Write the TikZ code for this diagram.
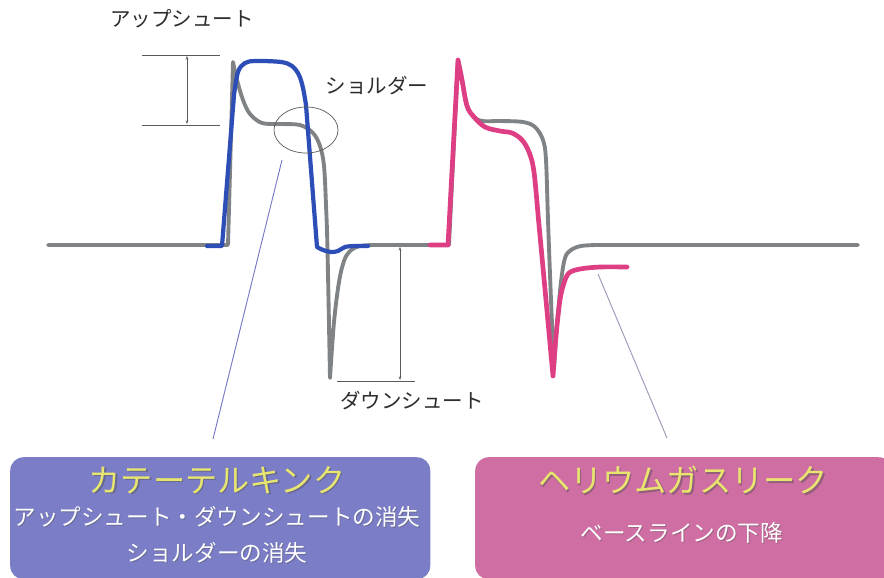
\documentclass[tikz,border=0pt]{standalone}
\usepackage{fontspec}
\setmainfont{Noto Sans CJK JP}
\usetikzlibrary{arrows.meta,shapes.geometric}
\definecolor{curvegray}{RGB}{128,131,133}
\definecolor{katblue}{RGB}{45,78,182}
\definecolor{hepink}{RGB}{222,62,132}
\definecolor{kboxfill}{RGB}{123,126,198}
\definecolor{hboxfill}{RGB}{206,110,162}
\definecolor{titleyellow}{RGB}{232,230,110}
\definecolor{labelgray}{RGB}{45,45,45}
\definecolor{thingray}{RGB}{90,90,90}
\definecolor{kleader}{RGB}{120,120,200}
\definecolor{hleader}{RGB}{165,150,185}
\begin{document}
\begin{tikzpicture}[x=0.03cm,y=-0.03cm,
  lbl/.style={text=labelgray,font=\fontsize{17.5pt}{20pt}\selectfont,inner sep=0pt},
  boxtitle/.style={text=titleyellow,font=\fontsize{27.5pt}{30pt}\selectfont,inner sep=0pt},
  boxshadow/.style={text=black!70,opacity=0.45,font=\fontsize{27.5pt}{30pt}\selectfont,inner sep=0pt},
  boxsub/.style={text=white,font=\fontsize{19.3pt}{22pt}\selectfont,inner sep=0pt},
  subshadow/.style={text=black!70,opacity=0.35,font=\fontsize{19.3pt}{22pt}\selectfont,inner sep=0pt},
  infobox/.style={rounded corners=0.4cm,inner sep=0pt,anchor=north west,minimum height=3.66cm},
  measure/.style={draw=thingray,line width=0.6pt},
  measarrow/.style={draw=thingray,line width=0.6pt,{Stealth[length=3pt,width=2.2pt]}-{Stealth[length=3pt,width=2.2pt]}},
  graycurve/.style={draw=curvegray,line width=3.3pt,line join=round,line cap=round},
  bluecurve/.style={draw=katblue,line width=3.6pt,line join=round,line cap=round},
  pinkcurve/.style={draw=hepink,line width=4pt,line join=round,line cap=round},
  leader/.style={line width=0.8pt}]
\useasboundingbox (0,0) rectangle (884,577);
\fill[white] (0,0) rectangle (884,577);

% info boxes
\node[infobox,fill=kboxfill,minimum width=12.6cm] (kbox) at (10,457) {};
\node[infobox,fill=hboxfill,minimum width=12.5cm] (hbox) at (475,457) {};

\node[boxshadow] (ktitleS) at (218.5,481.5) {カテーテルキンク};
\node[boxtitle] (ktitle) at (217,480) {カテーテルキンク};
\node[subshadow] (ksub1S) at (218,518) {アップシュート・ダウンシュートの消失};
\node[boxsub] (ksub1) at (217,517) {アップシュート・ダウンシュートの消失};
\node[subshadow] (ksub2S) at (218,554) {ショルダーの消失};
\node[boxsub] (ksub2) at (217,553) {ショルダーの消失};

\node[boxshadow] (htitleS) at (684.5,481.5) {ヘリウムガスリーク};
\node[boxtitle] (htitle) at (683,480) {ヘリウムガスリーク};
\node[subshadow] (hsubS) at (683,534) {ベースラインの下降};
\node[boxsub] (hsub) at (682,533) {ベースラインの下降};

% labels
\node[lbl] (uplbl) at (182,19) {アップシュート};
\node[lbl] (shlbl) at (377,86) {ショルダー};
\node[lbl] (dnlbl) at (412,401) {ダウンシュート};

% upshoot measure
\coordinate (uta) at (142,55); \coordinate (utb) at (220,55);
\coordinate (uba) at (142,125); \coordinate (ubb) at (220,125);
\coordinate (uv1) at (187,56); \coordinate (uv2) at (187,124);
\draw[measure] (uta) -- (utb);
\draw[measure] (uba) -- (ubb);
\draw[measarrow] (uv1) -- (uv2);

% downshoot measure
\coordinate (dba) at (337,381); \coordinate (dbb) at (415,381);
\coordinate (dv1) at (400,247); \coordinate (dv2) at (400,380);
\draw[measure] (dba) -- (dbb);
\draw[measarrow] (dv1) -- (dv2);

% leader lines
\coordinate (kl1) at (282,160); \coordinate (kl2) at (213,439);
\draw[leader,draw=kleader] (kl1) -- (kl2);
\coordinate (hl1) at (598,274); \coordinate (hl2) at (667,438);
\draw[leader,draw=hleader] (hl1) -- (hl2);

% normal (gray) curve
\draw[graycurve] (48,245) -- (228,245) -- (233,62)
  -- plot[smooth,tension=0.55] coordinates {(233,62) (237,80) (243,100) (250,114) (262,123) (280,124) (300,125) (313,133) (320,146) (324,166) (326,205) (327.5,250) (330,378)}
  -- plot[smooth,tension=0.55] coordinates {(330,378) (334,322) (339,282) (344,261) (350,251) (360,246) (375,245)}
  -- (449,245) -- (458,60)
  -- plot[smooth,tension=0.55] coordinates {(458,60) (462,80) (467,105) (473,116) (482,121) (500,121) (523,122) (535,127) (543,140) (546,160) (548,220) (551,300) (554,368)}
  -- plot[smooth,tension=0.55] coordinates {(554,368) (557,325) (561,282) (565,258) (571,250) (581,246) (596,245)}
  -- (858,245);

% catheter kink (blue)
\draw[bluecurve] (207,246) -- (222,246) -- (234,95)
  -- plot[smooth,tension=0.55] coordinates {(234,95) (238,72) (245,63) (256,61) (281,62) (292,66) (299,75) (303,88) (306,105)}
  -- (317,247)
  -- plot[smooth,tension=0.55] coordinates {(317,247) (323,250) (331,252) (338,251) (345,247) (355,246) (368,246)};

% helium gas leak (pink)
\draw[pinkcurve] (430,245) -- (448,245) -- (458,60)
  -- plot[smooth,tension=0.55] coordinates {(458,60) (462,80) (467,106) (474,117) (485,127) (500,131) (512,133) (522,140) (529,152) (534,172) (539,225) (546,300) (553,376)}
  -- plot[smooth,tension=0.55] coordinates {(553,376) (556,336) (560,300) (564,283) (569,273) (580,269) (600,267) (627,267)};

% shoulder ellipse
\node[draw=thingray,ellipse,line width=0.6pt,minimum width=1.92cm,minimum height=1.38cm,inner sep=0pt] (shoulder) at (306,130) {};
\end{tikzpicture}
\end{document}
